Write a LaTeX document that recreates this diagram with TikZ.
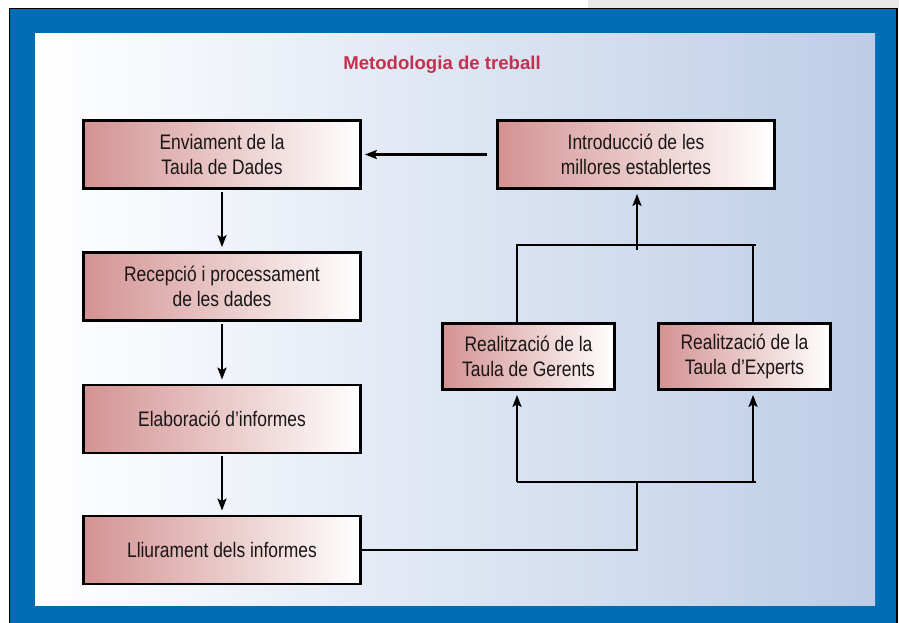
\documentclass[tikz,border=0pt]{standalone}
\usepackage{fontspec}
\setmainfont{Liberation Sans}[FakeStretch=0.83]
\newfontfamily\titlefont{Liberation Sans}
\usetikzlibrary{arrows.meta}
\definecolor{frameblue}{RGB}{0,108,180}
\definecolor{panelright}{RGB}{189,205,231}
\definecolor{boxleft}{RGB}{212,146,146}
\definecolor{titlered}{RGB}{196,48,79}
\definecolor{txt}{RGB}{25,22,23}
\definecolor{topgrey}{RGB}{232,232,232}
\tikzset{
  stepbox/.style={draw=black, line width=2.8pt, left color=boxleft, right color=white,
    minimum width=277pt, minimum height=68pt, inner sep=0pt, align=center,
    text=txt, font=\fontsize{21}{25}\selectfont},
  smallbox/.style={stepbox, minimum width=172pt, minimum height=66pt},
  conn/.style={line width=2.5pt, draw=black},
  arr/.style={conn, -{Stealth[length=12pt,width=9pt,inset=2.5pt]}},
}
\begin{document}
\begin{tikzpicture}[x=1pt,y=-1pt]
\useasboundingbox (0,0) rectangle (899,622);
\fill[white] (0,0) rectangle (899,622);
\fill[topgrey] (588,0) rectangle (899,8);
\filldraw[fill=frameblue, draw=black, line width=1.5pt] (9.5,8.5) rectangle (897,625);
\shade[left color=white, right color=panelright] (35,33) rectangle (875,605);
\node[font=\titlefont\bfseries\fontsize{18.6}{22}\selectfont, text=titlered] (title) at (442,65) {Metodologia de treball};

\node[stepbox] (A) at (222,154.5) {Enviament de la\\Taula de Dades};
\node[stepbox] (B) at (222,286.5) {Recepció i processament\\de les dades};
\node[stepbox] (C) at (222,419) {Elaboració d’informes};
\node[stepbox] (D) at (222,550) {Lliurament dels informes};
\node[stepbox] (I) at (636,154.5) {Introducció de les\\millores establertes};
\node[smallbox] (G) at (528.5,356.5) {Realització de la\\Taula de Gerents};
\node[smallbox] (E) at (744.5,356.5) {Realització de la\\Taula d’Experts};

\coordinate (tl) at (517,245);
\coordinate (tr) at (753,245);
\coordinate (tx) at (756,245);
\coordinate (tm) at (637,250);
\coordinate (bl) at (517,482);
\coordinate (br) at (753,482);
\coordinate (bx) at (756,482);
\coordinate (bm) at (637,482);

\draw[arr, shorten <=9pt, shorten >=3pt] (I.west) -- (A.east);
\draw[arr, shorten <=2pt, shorten >=4pt] (A.south) -- (B.north);
\draw[arr, shorten <=2pt, shorten >=4pt] (B.south) -- (C.north);
\draw[arr, shorten <=2pt, shorten >=4pt] (C.south) -- (D.north);

\draw[conn] (G.north -| tl) -- (tl) -- (tx);
\draw[conn] (tr) -- (E.north -| tr);
\draw[arr, shorten >=4pt] (tm) -- (I.south -| tm);

\draw[conn] (D.east) -| (bm);
\draw[conn] (bl) -- (bx);
\draw[arr, shorten >=4pt] (bl) -- (G.south -| bl);
\draw[arr, shorten >=4pt] (br) -- (E.south -| br);
\end{tikzpicture}
\end{document}
